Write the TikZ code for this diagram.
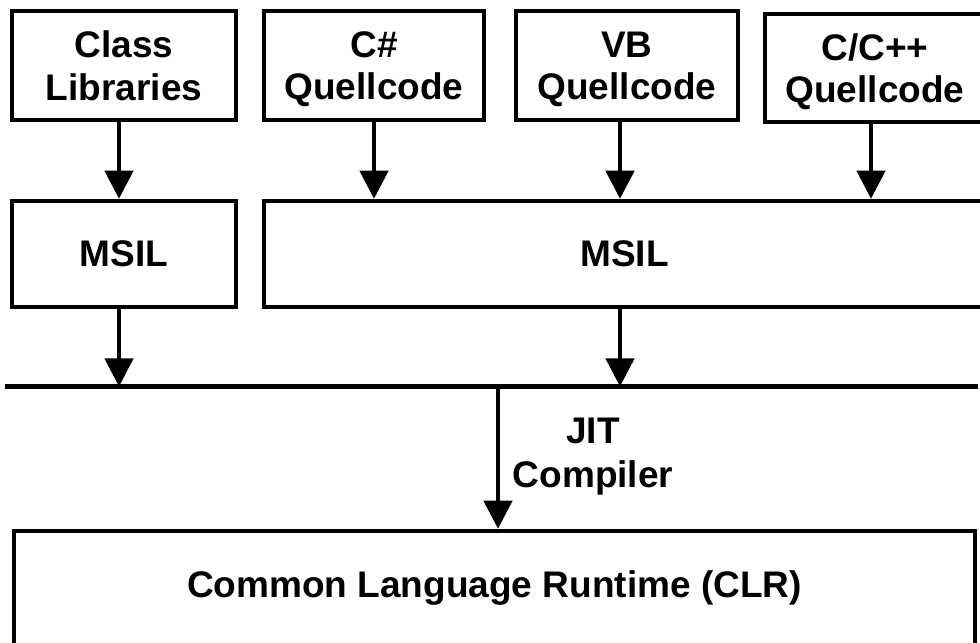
\documentclass[tikz,border=0pt]{standalone}
\usepackage{fontspec}
\setmainfont{Liberation Sans}
\usetikzlibrary{arrows.meta, positioning}

\begin{document}
\begin{tikzpicture}[
    x=0.03cm, y=-0.03cm,
    box/.style={rectangle, draw, line width=3.8pt, inner sep=0pt, align=center,
                font=\bfseries\fontsize{31.6}{36}\selectfont},
    srcbox/.style={box, text depth=0pt},
    arrow/.style={-{Triangle[length=24pt, width=24pt]}, line width=3.8pt},
    bus/.style={line width=3.8pt},
    lbl/.style={align=center, font=\bfseries\fontsize{31.6}{37.6}\selectfont},
]
\useasboundingbox (0,0) rectangle (980,642);
\clip (0,0) rectangle (980,642);

% Quellen
\node[srcbox, minimum width=6.72cm, minimum height=3.27cm] (cls) at (124,65.5) {Class\\Libraries};
\node[srcbox, minimum width=6.6cm, minimum height=3.27cm] (cs) at (374,65.5) {C\#\\Quellcode};
\node[srcbox, minimum width=6.66cm, minimum height=3.27cm] (vb) at (627,65.5) {VB\\Quellcode};
\node[srcbox, minimum width=6.6cm, minimum height=3.24cm] (cpp) at (875,68) {C/C++\\Quellcode};

% MSIL
\node[box, minimum width=6.72cm, minimum height=3.18cm] (msilA) at (124,254) {MSIL};
\node[box, minimum width=21.63cm, minimum height=3.18cm] (msilB) at (624.5,254) {MSIL};

\coordinate (clsx) at ([xshift=-0.15cm]cls.south);
\coordinate (vbx) at ([xshift=-0.21cm]vb.south);
\coordinate (cppx) at ([xshift=-0.12cm]cpp.south);
\draw[arrow] (clsx) -- (clsx |- msilA.north);
\draw[arrow] (cs.south) -- (cs.south |- msilB.north);
\draw[arrow] (vbx) -- (vbx |- msilB.north);
\draw[arrow] (cppx) -- (cppx |- msilB.north);

% Bus
\coordinate (busL) at (5,386.5);
\coordinate (busR) at (978,386.5);
\draw[bus] (busL) -- (busR);
\draw[arrow] (clsx |- msilA.south) -- (clsx |- busL);
\draw[arrow] (vbx |- msilB.south) -- (vbx |- busL);

% CLR
\node[box, minimum width=28.83cm, minimum height=3.45cm] (clr) at (494.5,588.5) {Common Language Runtime (CLR)};
\coordinate (busJ) at (498,386.5);
\draw[arrow] (busJ) -- (busJ |- clr.north);
\node[lbl] (jit) at (593,457) {JIT\\Compiler};
\end{tikzpicture}
\end{document}
